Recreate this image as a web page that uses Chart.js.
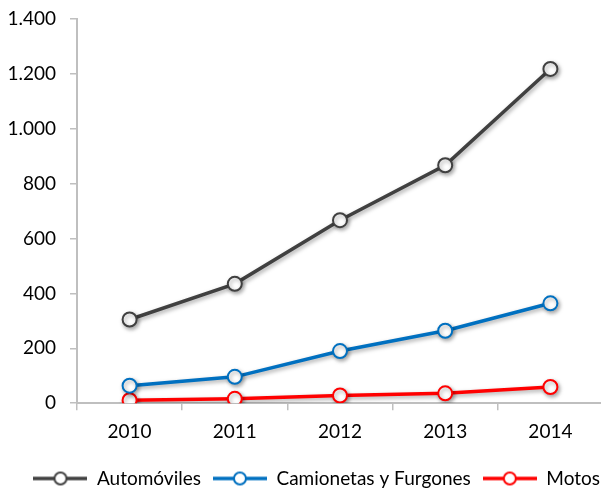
<!doctype html>
<html lang="es">
<head>
  <meta charset="utf-8">
  <title>Vehículos 2010-2014</title>
  <script src="https://cdn.jsdelivr.net/npm/chart.js/dist/chart.umd.min.js"></script>
  <style>
    html, body { margin: 0; padding: 0; background: #fff; overflow: hidden; }
    .chartBox { width: 612px; height: 490px; }
  </style>
</head>
<body>
  <div class="chartBox">
    <canvas id="myChart"></canvas>
  </div>
  <script>
    // datos
    const years = ['2010', '2011', '2012', '2013', '2014'];
    const seriesNames = ['Automóviles', 'Camionetas y Furgones', 'Motos'];
    const automoviles = [305, 435, 667, 867, 1218];
    const camionetas = [64, 96, 190, 264, 364];
    const motos = [11, 16, 28, 36, 59];
    const colors = ['#404040', '#0070C0', '#FF0000'];

    const font = { family: 'Lato', size: 19 };

    // simbolo de leyenda: linea con circulo al medio
    function legendSymbol(color) {
      const c = document.createElement('canvas');
      c.width = 54; c.height = 16;
      const g = c.getContext('2d');
      g.strokeStyle = color;
      g.lineWidth = 3.5;
      g.beginPath(); g.moveTo(0, 8); g.lineTo(54, 8); g.stroke();
      g.fillStyle = '#fff';
      g.lineWidth = 2;
      g.beginPath(); g.arc(27, 8, 6, 0, Math.PI * 2); g.fill(); g.stroke();
      return c;
    }
    const symbols = colors.map(legendSymbol);

    function makeSet(label, data, color) {
      return {
        label, data,
        borderColor: color,
        borderWidth: 3.5,
        pointRadius: 7,
        pointHoverRadius: 7,
        pointBorderWidth: 2,
        pointBackgroundColor: '#fff',
        pointBorderColor: color,
        tension: 0
      };
    }

    // sombra suave como en Excel
    const shadow = {
      id: 'shadow',
      beforeDatasetsDraw(chart) {
        const ctx = chart.ctx;
        ctx.save();
        ctx.shadowColor = 'rgba(0,0,0,0.35)';
        ctx.shadowBlur = 4;
        ctx.shadowOffsetX = 1.5;
        ctx.shadowOffsetY = 2;
      },
      afterDatasetsDraw(chart) {
        chart.ctx.restore();
      }
    };

    new Chart(document.getElementById('myChart'), {
      type: 'line',
      data: {
        labels: years,
        datasets: [
          makeSet(seriesNames[0], automoviles, colors[0]),
          makeSet(seriesNames[1], camionetas, colors[1]),
          makeSet(seriesNames[2], motos, colors[2])
        ]
      },
      plugins: [shadow],
      options: {
        responsive: true,
        maintainAspectRatio: false,
        animation: false,
        layout: { padding: { top: 19, left: 0, right: 0, bottom: -8 } },
        plugins: {
          tooltip: { enabled: false },
          legend: {
            position: 'bottom',
            align: 'end',
            labels: {
              usePointStyle: true,
              pointStyleWidth: 54,
              padding: 12,
              color: '#000',
              font,
              generateLabels: chart => Chart.defaults.plugins.legend.labels.generateLabels(chart)
                .map((l, i) => ({ ...l, pointStyle: symbols[i] }))
            }
          }
        },
        scales: {
          x: {
            offset: true,
            afterFit: s => { s.paddingLeft = 0; s.paddingRight = 0; s.height += 4; },
            grid: { offset: true, drawOnChartArea: false, tickLength: 7, color: '#bfbfbf', lineWidth: 1.5 },
            border: { color: '#bfbfbf', width: 2 },
            ticks: { color: '#000', font, padding: 10 }
          },
          y: {
            min: 0,
            max: 1400,
            afterFit: s => { s.width = 77; s.paddingTop = 0; s.paddingBottom = 0; },
            grid: { drawOnChartArea: false, tickLength: 7, color: '#bfbfbf', lineWidth: 1.5 },
            border: { color: '#bfbfbf', width: 2 },
            ticks: {
              stepSize: 200,
              color: '#000',
              font,
              padding: 14,
              callback: v => String(v).replace(/\B(?=(\d{3})+(?!\d))/g, '.')
            }
          }
        }
      }
    });
  </script>
</body>
</html>
